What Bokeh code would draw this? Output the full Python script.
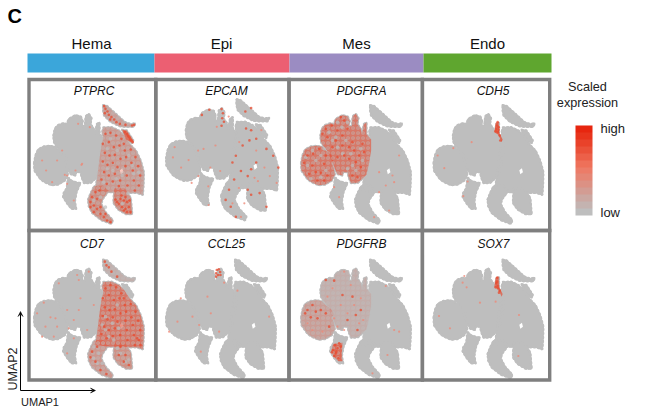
from bokeh.plotting import figure
from bokeh.models import Range1d, ColorBar, LinearColorMapper, FixedTicker, Arrow, VeeHead
from bokeh.core.properties import value
from bokeh.embed import file_html
from bokeh.resources import INLINE

CATEGORIES = ["Hema", "Epi", "Mes", "Endo"]
CATEGORY_COLORS = ["#3BA6DA", "#EC5F72", "#9B8CC2", "#5FA62F"]
GENES = [["PTPRC", "EPCAM", "PDGFRA", "CDH5"], ["CD7", "CCL25", "PDGFRB", "SOX7"]]
LEGEND_PALETTE = ["#BEBEBE", "#C4B3B0", "#CBA8A2", "#D39C93", "#DC9184", "#E58675", "#EC7C68",
                  "#EE7059", "#EC6049", "#EA5139", "#E9422A", "#E8341C", "#E7260F"]

# Cell-map territories (image units)
CL_A = [(26,262),(30,240),(38,222),(55,213),(72,211),(88,214),(100,226),(116,238),(124,252),(118,262),(124,280),(127,298),(118,315),(98,327),(78,329),(58,320),(46,312),(36,298),(27,285)]
CL_B = [(84,180),(88,160),(97,149),(115,143),(124,146),(130,130),(150,119),(166,123),(172,138),(168,152),(178,152),(181,122),(190,115),(198,128),(195,146),(204,158),(209,176),(214,146),(222,141),(222,176),(236,192),(236,225),(230,262),(222,298),(196,322),(176,323),(168,304),(166,290),(152,290),(150,300),(136,296),(128,282),(120,262),(112,240),(104,226),(90,208),(85,198)]
CL_C = [(128,306),(138,316),(156,322),(165,322),(153,350),(148,378),(152,400),(138,400),(124,382),(113,364),(115,352),(124,338)]
CL_D = [(234,156),(258,155),(280,165),(296,180),(312,205),(332,226),(346,256),(355,290),(354,330),(352,358),(334,352),(312,352),(296,350),(270,350),(250,350),(210,344),(216,300),(222,250),(228,210),(234,186),(230,170)]
CL_E = [(188,372),(196,352),(206,332),(232,330),(250,346),(232,370),(227,385),(240,410),(262,434),(258,445),(228,434),(200,412),(190,392)]
CL_F = [(266,338),(298,338),(316,368),(320,416),(302,416),(278,402),(264,382)]
CL_G = [(233,89),(244,91),(270,114),(298,140),(316,146),(329,143),(325,154),(300,154),(282,152),(254,138),(236,120),(233,104)]
CL_H = [(290,163),(304,165),(323,194),(321,203),(302,192)]
HOLE_1 = [(283,284),(291,278),(294,290),(286,296)]
CLUSTERS = [CL_A, CL_B, CL_C, CL_D, CL_E, CL_F, CL_G, CL_H]
GAPS = [HOLE_1]

C_LOWER = [(122,342),(150,338),(148,378),(150,394),(138,394),(124,380),(116,364)]
SLIVER = [(212,142),(221,140),(223,172),(233,192),(230,200),(220,178),(208,170)]

# Pale washes: (territory, strength)
PTPRC_WASH = [(CL_D,.3),(CL_E,.42),(CL_F,.5),(CL_G,.25),(CL_H,.65)]
CD7_WASH = [(CL_D,.6),(CL_E,.32),(CL_F,.38),(CL_G,.12)]
PDGFRA_WASH = [(CL_A,.6),(CL_B,.6)]
PDGFRB_WASH = [(CL_A,.28),(CL_B,.13),(C_LOWER,.7)]
EMPTY_WASH = []

# Expressing cells (image units)
PTPRC_HOT = [(236,92),(240,100),(246,108),(238,113),(250,118),(258,125),(266,132),(273,140),(283,145),(254,132),(320,150),(326,148),(300,148),
 (298,170),(304,176),(312,186),(318,195),(322,200),(308,182),(314,192),
 (240,175),(255,172),(272,180),(288,190),(232,205),(250,200),(265,215),(282,210),(298,225),(316,222),(330,245),(238,232),(252,240),(268,238),(285,250),(302,245),(318,262),(338,272),(232,258),(246,268),(262,262),(276,275),(300,272),(322,285),(344,300),(236,290),(250,300),(268,295),(284,315),(304,300),(325,315),(340,330),(228,312),(244,325),(262,318),(280,332),(306,330),(328,345),(295,205),
 (275,380),(285,370),(295,375),(305,380),(310,395),(315,410),(300,400),(290,395),(280,385),(300,365),(270,372),(305,410),(295,405),(312,375),(288,360),
 (200,365),(210,350),(222,345),(195,380),(205,390),(215,400),(225,415),(235,425),(245,435),(255,440),(215,370),(205,410),(195,395),(225,395),(240,415)]
PTPRC_FADE = [(95,255),(110,225),(62,285),(80,320),(50,255),(125,300),(158,145),(193,155),(170,265),(150,285),(168,268),(125,325),(145,375),(118,298)]
PTPRC_FLECK = [(245,220),(275,225),(310,240),(262,285),(290,300),(325,295),(245,280),(235,320),(272,310),(205,375),(225,365),(240,395),(290,385),(308,355),(340,290),(255,190),(320,270)]

EPCAM_HOT = [(189,118),(193,130),(191,145),(196,155),(189,167),(153,120),(131,135),(259,125),(276,115),(261,175),(276,180),(291,205),(271,210),(251,225),(231,255),(221,275),(321,235),(341,255),(356,290),(291,275),(276,295),(266,315),(246,300),(226,325),(211,355),(201,385),(216,405),(231,435),(266,355),(276,370),(321,405),(301,365)]
EPCAM_FADE = [(175,170),(210,140),(120,240),(70,290),(92,268),(185,300),(150,345),(296,330),(315,290),(240,350),(51,230),(46,260),(101,335),(151,400),(136,235),(171,225),(121,315),(156,290),(291,240),(241,215),(306,180),(331,315),(351,335),(286,320),(256,395),(221,395),(246,435)]
CDH5_HOT = [(218,140),(216,150),(214,160),(221,155),(212,167),(219,170),(224,180),(226,195),(221,163)]
CDH5_FADE = [(85,218),(38,240),(58,278),(115,362),(128,318),(140,200)]
CCL25_HOT = [(178,120),(184,118),(188,126),(176,130),(182,135),(176,140),(189,135)]
CCL25_FADE = [(70,205),(150,200),(160,250),(105,260),(60,275),(35,305),(125,285),(185,305),(200,158),(130,365),(240,182),(335,260)]
SOX7_HOT = [(217,143),(216,155),(218,168),(214,160),(219,175),(222,188),(212,172),(224,182)]
SOX7_FADE = [(118,138),(113,158),(125,172),(165,218),(212,215),(42,258),(75,295),(280,378),(282,255)]

PDGFRA_HOT = [(180,200),(170,215),(150,210),(130,195),(100,160),(118,150),(60,270),(70,290),(85,292),(45,240),(35,262),(95,265),(62,235),(80,220),(105,300),(75,315),(135,165),(155,135),(150,180),(105,185),(200,240),(215,230),(190,260),(170,250),(135,245),(195,305),(180,300),(205,275),(120,215),(100,240),(210,205),(165,160),(90,175),(145,125),(50,295),(95,315),(185,225),(155,240)]
PDGFRA_FADE = [(305,320),(320,240),(260,290),(300,300),(280,330),(245,425),(290,405),(260,350),(125,335),(140,365)]
PDGFRA_FLECK = [(110,170),(130,185),(148,155),(120,195),(160,195),(175,235),(205,220),(150,235),(135,215),(180,270),(165,280),(190,285),(60,225),(45,270),(85,240),(70,255),(100,285),(55,310),(85,305),(40,245),(95,220),(135,140),(165,140),(210,255)]

CD7_HOT = [(238,95),(243,106),(250,112),(258,125),(275,140),(240,175),(255,165),(272,172),(288,190),(232,205),(250,195),(265,210),(282,205),(298,225),(316,222),(330,245),(238,232),(252,240),(268,238),(285,250),(302,245),(318,262),(338,272),(232,258),(246,268),(262,262),(276,275),(300,272),(322,285),(344,300),(236,290),(250,300),(268,295),(284,315),(304,300),(325,315),(340,330),(228,312),(244,325),(262,318),(306,330),(328,345),(345,345),(295,205),(335,325),
 (200,365),(195,382),(210,395),(225,420),(243,432),(280,375),(295,395),(310,405),(300,375),(215,350),(285,350)]
CD7_FADE = [(55,218),(35,250),(75,262),(90,265),(60,290),(95,290),(50,320),(85,320),(155,135),(160,150),(165,205),(125,240),(145,270),(130,295),(145,325),(125,370),(205,225),(185,300),(100,160),(190,125),(160,240)]
CD7_FLECK = [(240,300),(260,280),(280,295),(250,320),(230,285),(265,330),(205,350),(220,370),(205,385),(230,400),(285,370),(300,395),(275,355),(310,390),(215,400),(240,260),(275,225)]

PDGFRB_HOT = [(128,345),(135,355),(122,360),(118,367),(130,370),(140,340),(125,378),(138,385),(132,365),(145,350),(60,225),(45,240),(38,250),(70,245),(55,262),(85,240),(75,265),(100,250),(100,150),(125,152),(150,195),(180,200),(205,240),(190,255),(165,270),(195,300),(110,290)]
PDGFRB_FADE = [(155,125),(120,175),(175,165),(145,225),(205,205),(185,225),(165,250),(125,265),(135,290),(90,305),(60,300),(45,280),(105,200),(155,300),(212,270),(200,280),(280,168),(305,300),(320,305),(285,375),(240,430)]

ROW_DY = [0, 154.5]
COL_DX = [0, 132, 267, 399.5]
PANEL_SCALE = [[1, 1.02, 1, 1], [1, 1, 1, 1]]
WASHES = [[PTPRC_WASH, EMPTY_WASH, PDGFRA_WASH, [(SLIVER, .7)]], [CD7_WASH, EMPTY_WASH, PDGFRB_WASH, [(SLIVER, .65)]]]
HOT = [[PTPRC_HOT, EPCAM_HOT, PDGFRA_HOT, CDH5_HOT], [CD7_HOT, CCL25_HOT, PDGFRB_HOT, SOX7_HOT]]
FADE = [[PTPRC_FADE, EPCAM_FADE, PDGFRA_FADE, CDH5_FADE], [CD7_FADE, CCL25_FADE, PDGFRB_FADE, SOX7_FADE]]
FLECK = [[PTPRC_FLECK, [], PDGFRA_FLECK, []], [CD7_FLECK, [], [], []]]

FONT = value("Liberation Sans")
GREY, RED, FRAME = "#BEBEBE", "#E8492E", "#7F7F7F"

p = figure(width=649, height=411, x_range=Range1d(0, 649), y_range=Range1d(411, 0),
           output_backend="svg", toolbar_location=None, min_border=0)
p.xaxis.visible = False
p.yaxis.visible = False
p.grid.visible = False
p.outline_line_color = None

# category header
edges = [27, 154, 289, 423, 551]
p.quad(left=edges[:-1], right=edges[1:], top=[53]*4, bottom=[72]*4, color=CATEGORY_COLORS, line_color=None)
p.text(x=[91, 221, 356, 487], y=[43]*4, text=CATEGORIES, text_font=FONT, text_font_size="15px",
       text_align="center", text_baseline="middle", text_color="#111111")

for r in range(2):
    for c in range(4):
        ox, oy, s = 25 + COL_DX[c], 75 + ROW_DY[r] - (6.5 if (r, c) == (0, 1) else 0), PANEL_SCALE[r][c]
        X = lambda v: ox + 8.3 + (v - 25) * s / 3
        Y = lambda v: oy + v * s / 3
        xs = [[X(q[0]) for q in poly] for poly in CLUSTERS]
        ys = [[Y(q[1]) for q in poly] for poly in CLUSTERS]
        p.patches(xs, ys, fill_color=GREY, line_color=GREY, line_width=1.5, line_join="round")
        p.patches(xs, ys, fill_color=None, line_color=GREY, line_width=2.4, line_dash="1 3", line_cap="round")
        p.patches([[X(q[0]) for q in g] for g in GAPS], [[Y(q[1]) for q in g] for g in GAPS],
                  fill_color="white", line_color=None)
        for poly, strength in WASHES[r][c]:
            p.patch([X(q[0]) for q in poly], [Y(q[1]) for q in poly], fill_color=RED,
                    fill_alpha=strength, line_color=None)
            if strength < .65 or c == 2:
                p.patch([X(q[0]) for q in poly], [Y(q[1]) for q in poly], fill_color=None, line_color=None,
                        hatch_pattern="ring", hatch_color=GREY, hatch_alpha=.55, hatch_scale=5, hatch_weight=1.2)
        if FLECK[r][c]:
            p.scatter([X(q[0]) for q in FLECK[r][c]], [Y(q[1]) for q in FLECK[r][c]], size=3.6,
                      color=GREY, alpha=.7, line_color=None)
        p.scatter([X(q[0]) for q in FADE[r][c]], [Y(q[1]) for q in FADE[r][c]], size=2.2,
                  color="#EE8A78", alpha=.8, line_color=None)
        p.scatter([X(q[0]) for q in HOT[r][c]], [Y(q[1]) for q in HOT[r][c]], size=2.6,
                  color=RED, alpha=.75, line_color=None)

# frame
cols = [28.5, 155.3, 288.5, 421.9, 549.2]
rows = [79, 230, 379.5]
for a, b in zip(rows[:-1], rows[1:]):
    p.quad(left=cols[:-1], right=cols[1:], top=[a]*4, bottom=[b]*4, fill_color=None,
           line_color=FRAME, line_width=3.4, line_join="miter")

p.text(x=[93.5, 226, 361, 492.5, 91.5, 226, 361, 493], y=[90]*4 + [243]*4,
       text=GENES[0] + GENES[1], text_font=FONT, text_font_style="italic", text_font_size="12px",
       text_align="center", text_baseline="middle", text_color="#111111")

# UMAP axes
head = dict(size=5, fill_color="black", line_color="black", line_width=.5)
p.add_layout(Arrow(end=VeeHead(**head), x_start=20, y_start=390, x_end=20, y_end=311, line_width=1))
p.add_layout(Arrow(end=VeeHead(**head), x_start=20, y_start=390, x_end=95, y_end=390, line_width=1))
p.text(x=[12.5], y=[368.5], text=["UMAP2"], angle=[1.5708], text_font=FONT, text_font_size="12.5px",
       text_align="center", text_baseline="middle", text_color="#222222")
p.text(x=[39.5], y=[401.5], text=["UMAP1"], text_font=FONT, text_font_size="11px",
       text_align="center", text_baseline="middle", text_color="#222222")

p.text(x=[7], y=[15], text=["C"], text_font=FONT, text_font_style="bold", text_font_size="20px",
       text_align="left", text_baseline="middle", text_color="black")

# legend
p.text(x=[587, 587], y=[86, 102], text=["Scaled", "expression"], text_font=FONT, text_font_size="12.7px",
       text_align="center", text_baseline="middle", text_color="#222222")
mapper = LinearColorMapper(palette=LEGEND_PALETTE, low=0, high=1)
bar = ColorBar(color_mapper=mapper, width=17, height=90, location=(575, 196), padding=0, margin=0,
               ticker=FixedTicker(ticks=[0.03, 0.97]), major_label_overrides={0.03: "low", 0.97: "high"},
               major_tick_line_color=None, bar_line_color=None, background_fill_color=None,
               border_line_color=None, label_standoff=8, major_label_text_font="Liberation Sans",
               major_label_text_font_size="13px", major_label_text_color="#222222")
p.add_layout(bar, "center")

open("out.html", "w").write(file_html(p, INLINE))
